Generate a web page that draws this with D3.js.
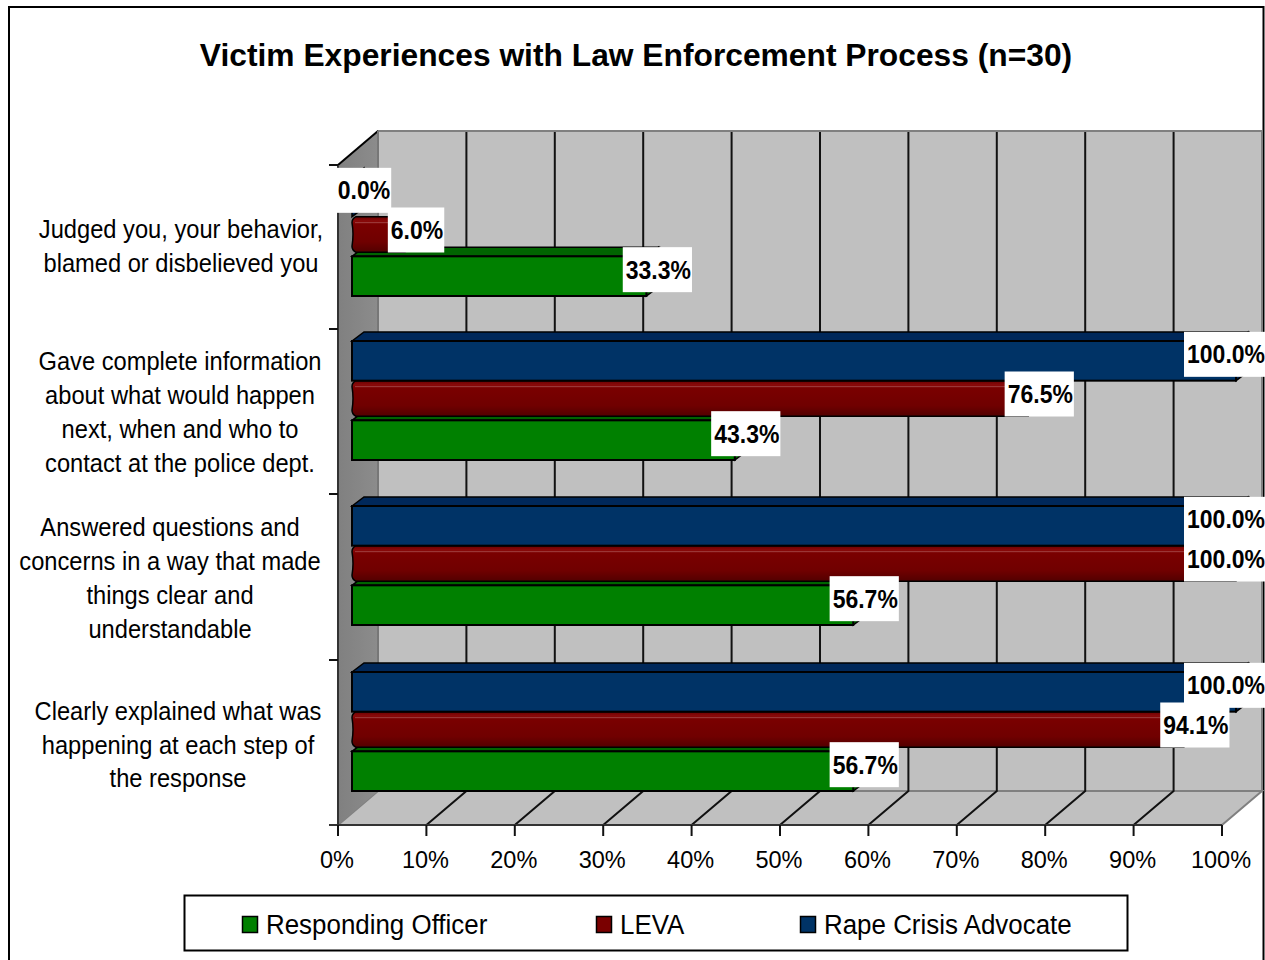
<!DOCTYPE html>
<html><head><meta charset="utf-8">
<script src="https://cdn.jsdelivr.net/npm/d3@7"></script>
<style>html,body{margin:0;padding:0;background:#fff;overflow:hidden}svg{display:block}text{font-family:"Liberation Sans",Arial,sans-serif;fill:#000}</style>
</head><body><svg id="c" width="1265" height="960"></svg>
<script>
const title = "Victim Experiences with Law Enforcement Process (n=30)";
const categories = ["Judged you","Gave complete information","Answered questions","Clearly explained"];
const categoryLines = [
  ["Judged you, your behavior,","blamed or disbelieved you"],
  ["Gave complete information","about what would happen","next, when and who to","contact at the police dept."],
  ["Answered questions and","concerns in a way that made","things clear and","understandable"],
  ["Clearly explained what was","happening at each step of","the response"]
];
const categoryLabelCenters = [181,180,170,178];
const categoryLabelShift = [-0.5,1.5,2.5,3];
const seriesNames = ["Rape Crisis Advocate","LEVA","Responding Officer"];
const rapeCrisis = [0,100,100,100];
const leva = [6,76.5,100,94.1];
const officer = [33.3,43.3,56.7,56.7];
const xTicks = [0,10,20,30,40,50,60,70,80,90,100];
const legendOrder = ["Responding Officer","LEVA","Rape Crisis Advocate"];
const legendX = [242,596,800];
const colors = {"Responding Officer":"#008000","LEVA":"#7a0000","Rape Crisis Advocate":"#003366"};
const topColors = {"Responding Officer":"#006400","LEVA":"#5a0000","Rape Crisis Advocate":"#00285a"};
const values = {"Rape Crisis Advocate":rapeCrisis,"LEVA":leva,"Responding Officer":officer};

const svg = d3.select("#c");
const defs = svg.append("defs");
const g = defs.append("linearGradient").attr("id","red").attr("x1",0).attr("x2",0).attr("y1",0).attr("y2",1);
[[0,"#6a0000"],[0.12,"#8a0a0a"],[0.2,"#7a0000"],[0.7,"#700000"],[1,"#520000"]].forEach(d=>g.append("stop").attr("offset",d[0]).attr("stop-color",d[1]));
const sideG = defs.append("linearGradient").attr("id","side").attr("x1",0).attr("x2",1).attr("y1",0).attr("y2",0);
sideG.append("stop").attr("offset",0).attr("stop-color","#808080");
sideG.append("stop").attr("offset",1).attr("stop-color","#8c8c8c");

const x = d3.scaleLinear().domain([0,100]).range([338,1222]);
const y = d3.scaleOrdinal().domain(categories).range([165,329,494,660]);
const s = d3.scaleBand().domain(seriesNames).range([12,131]);
const wallDx = 40, wallDy = -34, barDx = 12, barDy = -9, barInset = 14;
const plotTop = 165, plotBottom = 825, catStep = 165;

function label(parent,str,px,py,size,k,anchor,weight){
  const t = parent.append("g").attr("transform",`translate(${px},${py}) scale(${k},1)`)
    .append("text").attr("text-anchor",anchor||"middle").attr("font-size",size).attr("font-weight",weight||"normal").text(str);
  return t;
}

svg.append("rect").attr("x",9).attr("y",7).attr("width",1254.5).attr("height",1000).attr("fill","#fff").attr("stroke","#000").attr("stroke-width",2);
label(svg,title,636,66,32,0.993,"middle","bold");

// walls
const B = plotBottom+wallDy, T = plotTop+wallDy;
svg.append("path").attr("d",`M${x(0)+wallDx},${T}H${x(100)+wallDx}V${B}H${x(0)+wallDx}Z`).attr("fill","#c0c0c0").attr("stroke","#808080").attr("stroke-width",2);
svg.append("path").attr("d",`M${x(0)},${plotBottom}L${x(0)+wallDx},${B}H${x(100)+wallDx}L${x(100)},${plotBottom}Z`).attr("fill","#c0c0c0").attr("stroke","#808080").attr("stroke-width",2);
svg.append("path").attr("d",`M${x(0)},${plotTop}L${x(0)+wallDx},${T}V${B}L${x(0)},${plotBottom}Z`).attr("fill","url(#side)").attr("stroke","none");
svg.append("line").attr("x1",x(0)).attr("y1",plotTop).attr("x2",x(0)+wallDx).attr("y2",T).attr("stroke","#000").attr("stroke-width",2);
svg.append("line").attr("x1",x(0)+wallDx).attr("y1",T).attr("x2",x(0)+wallDx).attr("y2",B).attr("stroke","#777").attr("stroke-width",2);

// grid
const grid = svg.append("g");
xTicks.slice(1,-1).forEach(t=>{
  grid.append("path").attr("d",`M${x(t)},${plotBottom}L${x(t)+wallDx},${B}V${T+1}`).attr("fill","none").attr("stroke","#111").attr("stroke-width",2);
});

// bars
categories.forEach((c,ci)=>{
  const bars = svg.append("g");
  ["Responding Officer","LEVA","Rape Crisis Advocate"].forEach(n=>{
    const v = values[n][ci];
    const x0 = x(0)+barInset, x1 = x(v)+barInset;
    const y0 = y(c)+s(n), h = s.bandwidth()-(n==="LEVA"?4:0), y1 = y0+h;
    if(n==="LEVA"){
      bars.append("path").attr("d",`M${x1},${y0}V${y1}H${x0+4}Q${x0},${y1-2} ${x0},${y1-6}Q${x0+2},${y0+h/2} ${x0},${y0+6}Q${x0},${y0+2} ${x0+4},${y0}Z`)
        .attr("fill","url(#red)").attr("stroke","#000").attr("stroke-width",1.5);
      bars.append("line").attr("x1",x0+3).attr("x2",x1-1).attr("y1",y0+6).attr("y2",y0+6).attr("stroke","#a04040").attr("stroke-width",1);
    } else {
      bars.append("path").attr("d",`M${x0},${y0}L${x0+barDx},${y0+barDy}H${x1+barDx}L${x1},${y0}Z`).attr("fill",topColors[n]).attr("stroke","#000").attr("stroke-width",1.5);
      bars.append("path").attr("d",`M${x1},${y0}L${x1+barDx},${y0+barDy}V${y1+barDy}L${x1},${y1}Z`).attr("fill",topColors[n]).attr("stroke","#000").attr("stroke-width",1.5);
      bars.append("rect").attr("x",x0).attr("y",y0).attr("width",x1-x0).attr("height",h).attr("fill",colors[n]).attr("stroke","#000").attr("stroke-width",2);
    }
  });
});

// axes
const axisG = svg.append("g");
axisG.append("line").attr("x1",x(0)).attr("x2",x(0)).attr("y1",plotTop).attr("y2",plotBottom).attr("stroke","#333").attr("stroke-width",2);
axisG.append("line").attr("x1",x(0)-9).attr("x2",x(100)).attr("y1",plotBottom).attr("y2",plotBottom).attr("stroke","#333").attr("stroke-width",2);
categories.forEach(c=>axisG.append("line").attr("x1",x(0)-9).attr("x2",x(0)).attr("y1",y(c)).attr("y2",y(c)).attr("stroke","#111").attr("stroke-width",2));
xTicks.forEach(t=>{
  axisG.append("line").attr("x1",x(t)).attr("x2",x(t)).attr("y1",plotBottom).attr("y2",plotBottom+11).attr("stroke","#111").attr("stroke-width",2);
  label(axisG,t+"%",x(t)-1,868,24.5,0.96);
});

// category labels
categories.forEach((c,ci)=>{
  const lines = categoryLines[ci];
  const cy = y(c)+catStep/2-1+categoryLabelShift[ci];
  lines.forEach((l,i)=>label(svg,l,categoryLabelCenters[ci],cy+(i-(lines.length-1)/2)*33.8+9,26,0.911));
});

// data labels
const maxLabelCenter = 1226;
categories.forEach((c,ci)=>{
  ["Rape Crisis Advocate","LEVA","Responding Officer"].forEach(n=>{
    const v = values[n][ci];
    const str = v.toFixed(1)+"%";
    const cx = Math.min(x(v)+barInset+12,maxLabelCenter);
    const cy = y(c)+s(n)+s.bandwidth()/2-6.5;
    const lg = svg.append("g");
    const rectEl = lg.append("rect").attr("fill","#fff");
    const t = label(lg,str,cx,cy+9,25,0.92,"middle","bold");
    const w = t.node().getComputedTextLength()*0.92+4;
    rectEl.attr("x",cx-w/2-1).attr("y",cy-22.5).attr("width",w).attr("height",45);
  });
});

// legend
svg.append("rect").attr("x",184.5).attr("y",895.5).attr("width",943).attr("height",55).attr("fill","#fff").attr("stroke","#000").attr("stroke-width",2);
legendOrder.forEach((n,i)=>{
  svg.append("rect").attr("x",legendX[i]+0.5).attr("y",916.5).attr("width",15).attr("height",16).attr("fill",colors[n]).attr("stroke","#000").attr("stroke-width",1.5);
  label(svg,n,legendX[i]+24,934,27,0.96,"start");
});
</script></body></html>
